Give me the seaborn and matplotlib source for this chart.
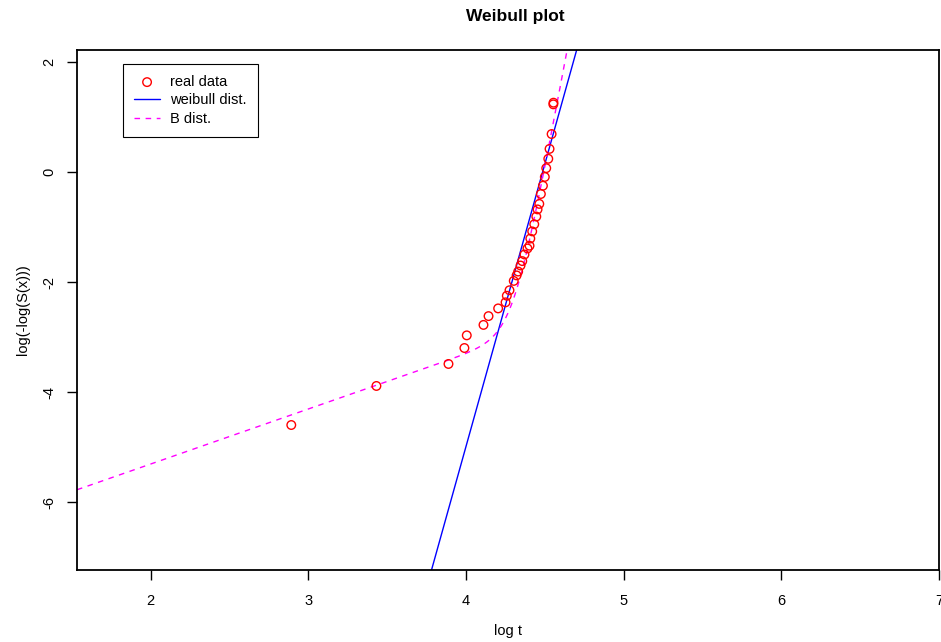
import numpy as np
import pandas as pd
import matplotlib
matplotlib.use("Agg")
import matplotlib.pyplot as plt
import seaborn as sns

# ---- data ----
log_t = [2.892, 3.432, 3.889, 3.990, 4.005, 4.111, 4.143, 4.204, 4.251, 4.259,
         4.276, 4.303, 4.321, 4.331, 4.346, 4.357, 4.371, 4.390, 4.403, 4.408,
         4.420, 4.433, 4.446, 4.454, 4.465, 4.475, 4.488, 4.500, 4.509, 4.522,
         4.530, 4.543, 4.554, 4.555]
log_H = [-4.60, -3.89, -3.49, -3.20, -2.97, -2.78, -2.62, -2.48, -2.37, -2.25,
         -2.15, -1.98, -1.88, -1.81, -1.70, -1.62, -1.50, -1.39, -1.34, -1.21,
         -1.08, -0.95, -0.81, -0.68, -0.58, -0.40, -0.25, -0.09, 0.07, 0.24,
         0.42, 0.69, 1.23, 1.26]

# Weibull fit: log(-log S) = k * (log t - log lambda)
weib_shape = 10.27
weib_loglam = 4.486
# B dist (additive hazard): H(t) = a*t + (t/lambda)^k
b_loga = -7.31
b_shape = 15.3
b_loglam = 4.497

x_ticks = [2, 3, 4, 5, 6, 7]
y_ticks = [2, 0, -2, -4, -6]
xlim = (1.533, 7.0)
ylim = (-7.236, 2.218)

sns.set_style("white")
plt.rcParams["font.family"] = ["Liberation Sans", "DejaVu Sans"]
plt.rcParams["text.color"] = "black"
plt.rcParams["axes.labelcolor"] = "black"
plt.rcParams["xtick.color"] = "black"
plt.rcParams["ytick.color"] = "black"

fig = plt.figure(figsize=(9.41, 6.42), dpi=100)
ax = fig.add_axes([77 / 941, 1 - 570 / 642, (939 - 77) / 941, (570 - 50) / 642])

grid = np.linspace(xlim[0], xlim[1], 2000)
weib = weib_shape * (grid - weib_loglam)
bdist = np.log(np.exp(b_loga + grid) + np.exp(b_shape * (grid - b_loglam)))

df_pts = pd.DataFrame({"x": log_t, "y": log_H})
sns.scatterplot(data=df_pts, x="x", y="y", ax=ax, marker="o", s=38,
                facecolors="none", edgecolor="red", linewidth=1.0,
                label="real data", zorder=3)
sns.lineplot(x=grid, y=weib, ax=ax, color="blue", linewidth=1.0,
             label="weibull dist.", sort=False)
sns.lineplot(x=grid, y=bdist, ax=ax, color="magenta", linewidth=1.0,
             linestyle=(0, (4, 4)), label="B dist.", sort=False)

ax.set_xlim(*xlim)
ax.set_ylim(*ylim)
ax.set_xticks(x_ticks)
ax.set_yticks(y_ticks)
ax.set_xticklabels([str(v) for v in x_ticks], fontsize=10.5)
ax.set_yticklabels([str(v) for v in y_ticks], fontsize=10.5, rotation=90, va="center")
ax.tick_params(axis="both", direction="out", length=7, width=1,
               bottom=True, left=True, top=False, right=False)
ax.tick_params(axis="x", pad=10)
ax.tick_params(axis="y", pad=8)
for sp in ax.spines.values():
    sp.set_visible(True)
    sp.set_color("black")
    sp.set_linewidth(1.3)

ax.set_xlabel("log t", fontsize=10.5, labelpad=12)
ax.set_ylabel("log(-log(S(x)))", fontsize=10.5, labelpad=9)
fig.text(515 / 941, 1 - 16 / 642, "Weibull plot", fontsize=12.5, fontweight="bold",
         ha="center", va="center")

leg = ax.legend(loc="upper left", bbox_to_anchor=((123 - 77) / 862, 1 - (64 - 50) / 520),
                borderaxespad=0, frameon=True, fancybox=False, edgecolor="black",
                framealpha=1, fontsize=10.5, handlelength=1.8, borderpad=0.75,
                labelspacing=0.3, handletextpad=0.7)
leg.get_frame().set_linewidth(0.8)

fig.savefig("out.png", dpi=100)
